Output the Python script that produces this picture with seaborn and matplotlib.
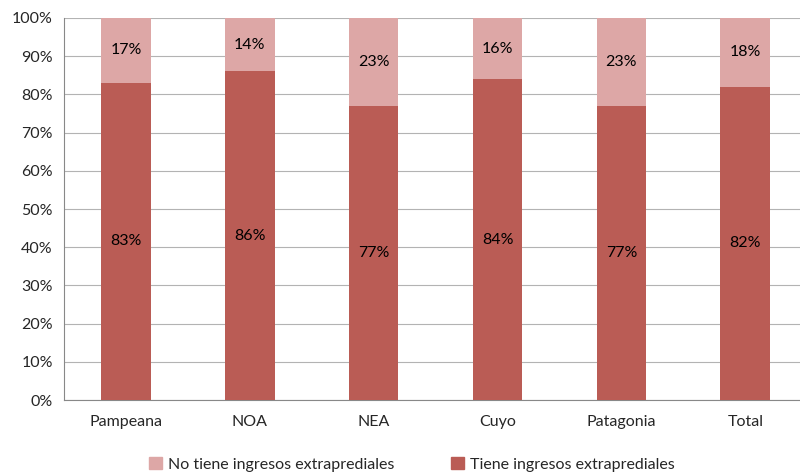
import pandas as pd
import numpy as np
import seaborn as sns
from matplotlib import pyplot as plt
from matplotlib.patches import Patch

regiones = ["Pampeana", "NOA", "NEA", "Cuyo", "Patagonia", "Total"]
tiene = [83, 86, 77, 84, 77, 82]
no_tiene = [17, 14, 23, 16, 23, 18]

DARK = "#BA5C55"
LIGHT = "#DDA7A6"

sns.set_theme(style="white")
plt.rcParams["font.family"] = ["Lato", "DejaVu Sans"]

data = pd.DataFrame({"region": regiones, "tiene": tiene, "no_tiene": no_tiene})
data["total"] = data["tiene"] + data["no_tiene"]

fig = plt.figure(figsize=(8, 4.72), dpi=100)
ax = fig.add_axes([0.08, 0.1525, 0.929, 0.8094])

sns.barplot(data=data, x="region", y="total", color=LIGHT, width=0.4,
            saturation=1, linewidth=0, ax=ax, zorder=2)
sns.barplot(data=data, x="region", y="tiene", color=DARK, width=0.4,
            saturation=1, linewidth=0, ax=ax, zorder=3)

fs = 11.5
for i, (t, n) in enumerate(zip(tiene, no_tiene)):
    ax.text(i, t / 2, f"{t}%", ha="center", va="center", fontsize=fs, color="black", zorder=4)
    ax.text(i, t + n / 2, f"{n}%", ha="center", va="center", fontsize=fs, color="black", zorder=4)

ax.set_ylim(0, 100)
ax.set_xlim(-0.5, 5.5)
ax.set_yticks(np.arange(0, 101, 10))
ax.set_yticklabels([f"{v}%" for v in range(0, 101, 10)], fontsize=fs)
ax.set_xticks(range(6))
ax.set_xticklabels(regiones, fontsize=fs)
ax.set_xticks(np.arange(-0.5, 6, 1), minor=True)
ax.tick_params(axis="x", which="major", length=0, pad=11)
ax.tick_params(axis="x", which="minor", length=5, color="#888888", width=0.8)
ax.tick_params(axis="y", length=5, color="#888888", width=0.8, pad=3)
ax.set_xlabel("")
ax.set_ylabel("")
ax.yaxis.grid(True, color="#B3B3B3", linewidth=0.8, zorder=0)
ax.set_axisbelow(True)
for side in ["top", "right"]:
    ax.spines[side].set_visible(False)
ax.spines["left"].set_color("#888888")
ax.spines["bottom"].set_color("#888888")
ax.spines["left"].set_linewidth(0.8)
ax.spines["bottom"].set_linewidth(0.8)

handles = [Patch(color=LIGHT, label="No tiene ingresos extraprediales"),
           Patch(color=DARK, label="Tiene ingresos extraprediales")]
fig.legend(handles=handles, loc="lower center", bbox_to_anchor=(0.515, -0.03), ncol=2,
           frameon=False, fontsize=fs, handlelength=0.8, handleheight=0.8,
           handletextpad=0.4, columnspacing=3.5)

fig.savefig("out.png", dpi=100)
